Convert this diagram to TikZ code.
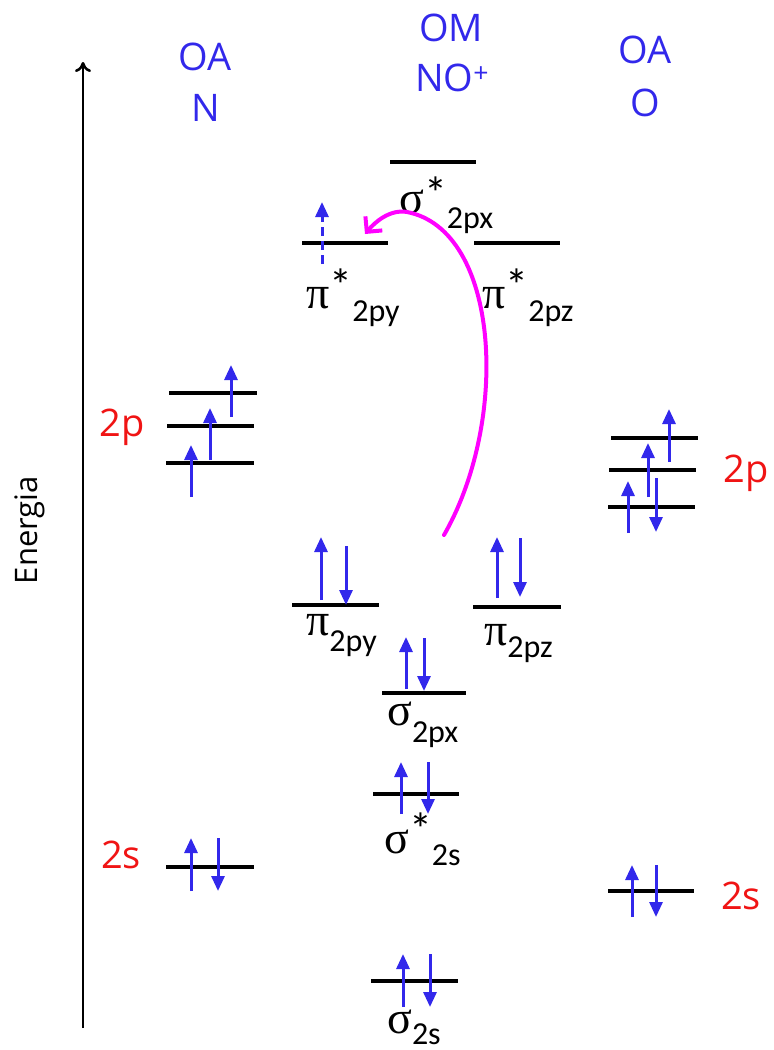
\documentclass[tikz,border=0pt]{standalone}
\usepackage{fontspec}
\setmainfont{Carlito}
\newfontfamily\gk{Liberation Serif}
\newfontfamily\hand{Open Sans}
\usetikzlibrary{arrows.meta}
\definecolor{eblue}{RGB}{50,40,235}
\definecolor{hred}{RGB}{240,20,20}
\definecolor{mag}{RGB}{255,0,255}
\newcommand\gkf{\gk\fontsize{46}{46}\selectfont}
\newcommand\subf{\rmfamily\fontsize{32}{32}\selectfont}
\newcommand\starf{\rmfamily\fontsize{46}{46}\selectfont *}
\newcommand\handf{\hand\fontsize{38}{38}\selectfont}
\begin{document}
\begin{tikzpicture}[x=1pt,y=-1pt,
  lvl/.style={line width=4pt},
  el/.style={draw=eblue, line width=3pt, -{Triangle[width=13pt,length=15pt]}},
  eldash/.style={el, dashed, dash pattern=on 9pt off 5pt},
  lab/.style={anchor=base west, inner sep=0pt},
  hblue/.style={text=eblue, font=\handf, inner sep=0pt},
  hredl/.style={text=hred, font=\handf, inner sep=0pt},
  every node/.style={inner sep=0pt}]
\useasboundingbox (0,0) rectangle (774,1050);
% energy axis
\coordinate (axb) at (83,1028);
\coordinate (axt) at (83,62);
\draw[line width=2.5pt, -{To[length=10pt,width=16pt]}] (axb) -- (axt);
\node[rotate=90, text=black, font=\hand\fontsize{31}{31}\selectfont] (en) at (30,530) {Energia};
% headers
\node[hblue] (oa1) at (205,57) {OA};
\node[hblue] (n1) at (206,108) {N};
\node[hblue] (om) at (451,28) {OM};
\node[hblue] (nop) at (452,78) {NO\textsuperscript{+}};
\node[hblue] (oa2) at (645,50) {OA};
\node[hblue] (o2) at (645,103) {O};
% red labels
\node[hredl] (p2n) at (122,427) {2p};
\node[hredl] (p2o) at (746,473) {2p};
\node[hredl] (s2n) at (121,855) {2s};
\node[hredl] (s2o) at (741,896) {2s};
% N 2p
\draw[lvl] (169,393) -- (257,393);
\draw[lvl] (167,426) -- (254,426);
\draw[lvl] (166,463) -- (254,463);
\draw[el] (191,497) -- (191,445);
\draw[el] (210,460) -- (210,408);
\draw[el] (231,417) -- (231,365);
% O 2p
\draw[lvl] (611,438) -- (698,438);
\draw[lvl] (609,470) -- (696,470);
\draw[lvl] (608,507) -- (695,507);
\draw[el] (628,533) -- (628,481);
\draw[el] (648,497) -- (648,443);
\draw[el] (656,478) -- (656,532);
\draw[el] (669,462) -- (669,409);
% N 2s
\draw[lvl] (166,867) -- (254,867);
\draw[el] (191,891) -- (191,838);
\draw[el] (218,838) -- (218,891);
% O 2s
\draw[lvl] (608,891) -- (694,891);
\draw[el] (632,917) -- (632,865);
\draw[el] (656,865) -- (656,917);
% sigma* 2px
\draw[lvl] (390,162) -- (476,162);
\node[lab] (ls2px) at (399,213) {\gkf σ\raisebox{4pt}{\starf}\raisebox{-15pt}{\subf 2px}};
% pi* 2py / 2pz
\draw[lvl] (302,243) -- (388,243);
\draw[lvl] (474,243) -- (560,243);
\draw[eldash] (322,264) -- (322,202);
\node[lab] (lpy2) at (306,308) {\gkf π\raisebox{7pt}{\starf}\raisebox{-13pt}{\subf 2py}};
\node[lab] (lpz2) at (482,308) {\gkf π\raisebox{7pt}{\starf}\raisebox{-13pt}{\subf 2pz}};
% pi 2py / 2pz
\draw[lvl] (292,605) -- (379,605);
\draw[el] (321,600) -- (321,537);
\draw[el] (346,546) -- (346,605);
\node[lab] (lpy) at (306,635) {\gkf π\raisebox{-16pt}{\subf 2py}};
\draw[lvl] (473,607) -- (561,607);
\draw[el] (497,598) -- (497,537);
\draw[el] (520,538) -- (520,597);
\node[lab] (lpz) at (484,645) {\gkf π\raisebox{-12pt}{\subf 2pz}};
% sigma 2px
\draw[lvl] (382,693) -- (466,693);
\draw[el] (406,689) -- (406,637);
\draw[el] (424,638) -- (424,691);
\node[lab] (lsx) at (387,725) {\gkf σ\raisebox{-17pt}{\subf 2px}};
% sigma* 2s
\draw[lvl] (373,794) -- (459,794);
\draw[el] (401,814) -- (401,762);
\draw[el] (428,762) -- (428,814);
\node[lab] (lss2) at (384,853) {\gkf σ\raisebox{8pt}{\starf}\raisebox{-12pt}{\subf 2s}};
% sigma 2s
\draw[lvl] (371,981) -- (458,981);
\draw[el] (403,1007) -- (403,954);
\draw[el] (430,954) -- (430,1007);
\node[lab] (lss) at (387,1033) {\gkf σ\raisebox{-11pt}{\subf 2s}};
% excitation arrow
\coordinate (mstart) at (444,535);
\coordinate (mtop) at (407,212);
\coordinate (mend) at (365,234);
\draw[mag, line width=4pt, line cap=round, -{Straight Barb[length=11pt,width=22pt]}]
  (mstart) .. controls (510,420) and (500,230) .. (mtop)
  .. controls (390,209) and (375,222) .. (mend);
\end{tikzpicture}
\end{document}
